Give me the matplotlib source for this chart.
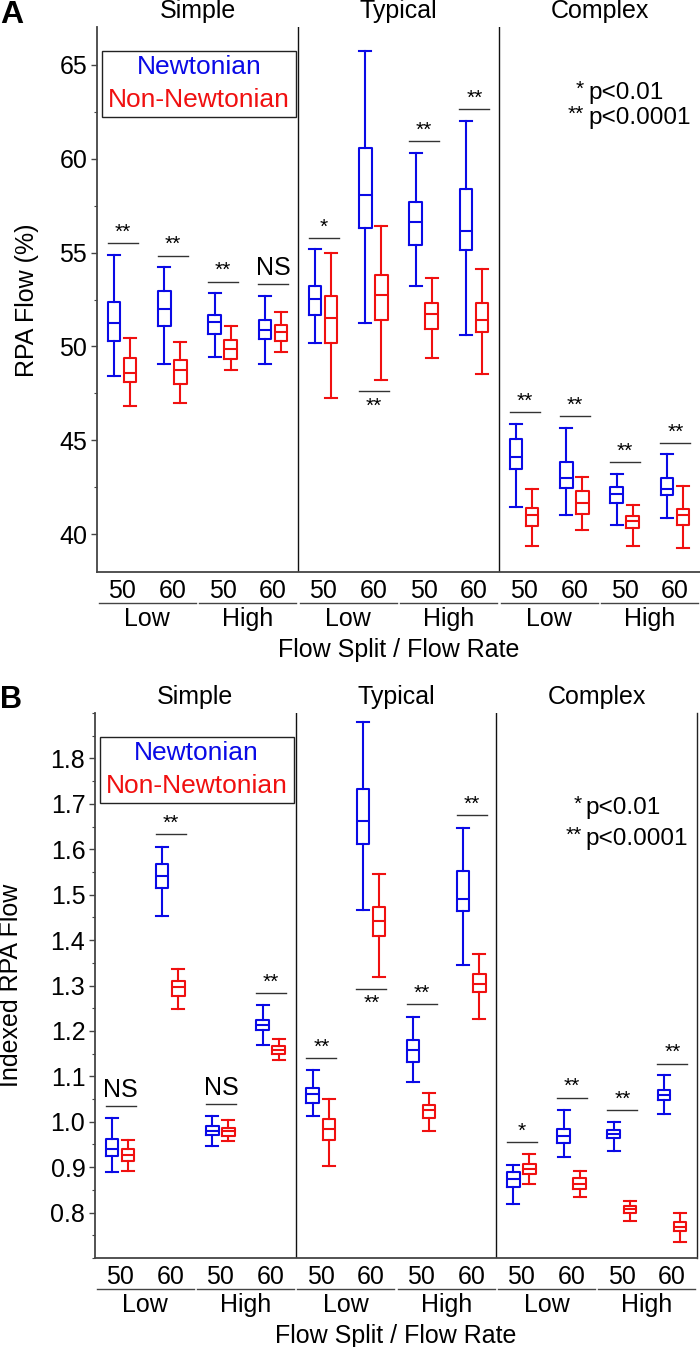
import matplotlib
matplotlib.use("Agg")
import matplotlib.pyplot as plt
from matplotlib.ticker import MultipleLocator, FixedLocator, FormatStrFormatter
from matplotlib.patches import Rectangle
import matplotlib.transforms as mtransforms

plt.rcParams['font.family'] = ['Liberation Sans', 'DejaVu Sans']

# ---------------- data ----------------
groups = ['Simple', 'Typical', 'Complex']
split_labels = ['50', '60'] * 6
rate_labels = ['Low', 'High'] * 3
legend_labels = ['Newtonian', 'Non-Newtonian']

# Panel A: RPA Flow (%)
A_newt_whislo = [48.42, 49.09, 49.43, 49.09, 50.19, 51.25, 53.20, 50.59, 41.45, 41.02, 40.48, 40.90]
A_newt_q1     = [50.29, 51.09, 50.66, 50.40, 51.67, 56.30, 55.41, 55.13, 43.48, 42.45, 41.66, 42.12]
A_newt_med    = [51.23, 52.00, 51.30, 50.86, 52.55, 58.06, 56.60, 56.15, 44.10, 43.00, 42.16, 42.44]
A_newt_q3     = [52.38, 52.94, 51.67, 51.39, 53.20, 60.55, 57.69, 58.40, 45.10, 43.83, 42.51, 42.98]
A_newt_whishi = [54.87, 54.23, 52.83, 52.71, 55.19, 65.70, 60.29, 62.00, 45.88, 45.68, 43.23, 44.27]

A_nonn_whislo = [46.85, 46.97, 48.76, 49.68, 47.26, 48.23, 49.39, 48.53, 39.40, 40.26, 39.40, 39.26]
A_nonn_q1     = [48.09, 47.98, 49.32, 50.29, 50.20, 51.40, 50.95, 50.79, 40.44, 41.06, 40.33, 40.49]
A_nonn_med    = [48.58, 48.76, 49.85, 50.77, 51.49, 52.73, 51.74, 51.39, 41.01, 41.69, 40.70, 41.02]
A_nonn_q3     = [49.39, 49.27, 50.33, 51.16, 52.68, 53.81, 52.34, 52.34, 41.43, 42.29, 40.97, 41.34]
A_nonn_whishi = [50.43, 50.24, 51.11, 51.86, 54.97, 56.43, 53.65, 54.14, 42.44, 43.06, 41.59, 42.58]

A_sig_text = ['**', '**', '**', 'NS', '*', '**', '**', '**', '**', '**', '**', '**']
A_sig_y    = [55.48, 54.83, 53.45, 53.31, 55.78, 47.63, 60.92, 62.63, 46.51, 46.30, 43.83, 44.87]
A_sig_below = [False, False, False, False, False, True, False, False, False, False, False, False]
A_yticks = [40, 45, 50, 55, 60, 65]

# Panel B: Indexed RPA Flow
B_newt_whislo = [0.890, 1.454, 0.947, 1.169, 1.012, 1.466, 1.087, 1.345, 0.818, 0.922, 0.936, 1.018]
B_newt_q1     = [0.925, 1.514, 0.971, 1.201, 1.042, 1.612, 1.132, 1.464, 0.857, 0.954, 0.964, 1.048]
B_newt_med    = [0.941, 1.541, 0.980, 1.212, 1.061, 1.662, 1.157, 1.491, 0.874, 0.968, 0.974, 1.059]
B_newt_q3     = [0.963, 1.568, 0.990, 1.224, 1.075, 1.732, 1.179, 1.553, 0.890, 0.983, 0.982, 1.070]
B_newt_whishi = [1.008, 1.606, 1.013, 1.256, 1.114, 1.881, 1.231, 1.647, 0.905, 1.026, 0.999, 1.102]

B_nonn_whislo = [0.892, 1.249, 0.957, 1.135, 0.902, 1.319, 0.980, 1.227, 0.863, 0.835, 0.781, 0.736]
B_nonn_q1     = [0.914, 1.277, 0.968, 1.149, 0.960, 1.408, 1.009, 1.285, 0.884, 0.852, 0.799, 0.760]
B_nonn_med    = [0.927, 1.297, 0.979, 1.158, 0.985, 1.442, 1.025, 1.303, 0.897, 0.863, 0.808, 0.769]
B_nonn_q3     = [0.939, 1.311, 0.987, 1.167, 1.007, 1.473, 1.037, 1.325, 0.908, 0.876, 0.814, 0.780]
B_nonn_whishi = [0.960, 1.336, 1.004, 1.183, 1.050, 1.545, 1.063, 1.370, 0.930, 0.892, 0.826, 0.799]

B_sig_text = ['NS', '**', 'NS', '**', '**', '**', '**', '**', '*', '**', '**', '**']
B_sig_y    = [1.034, 1.634, 1.038, 1.283, 1.140, 1.293, 1.259, 1.675, 0.956, 1.053, 1.026, 1.128]
B_sig_below = [False, False, False, False, False, True, False, False, False, False, False, False]
B_yticks = [0.8, 0.9, 1.0, 1.1, 1.2, 1.3, 1.4, 1.5, 1.6, 1.7, 1.8]

BLUE = '#0a0ae6'
RED = '#f01010'

W, H = 700, 1347
fig = plt.figure(figsize=(W / 100, H / 100), dpi=100)


def px_axes(left, top, right, bottom):
    return fig.add_axes([left / W, 1 - bottom / H, (right - left) / W, (bottom - top) / H])


def make_stats(lo, q1, med, q3, hi):
    return [dict(whislo=a, q1=b, med=c, q3=d, whishi=e, fliers=[])
            for a, b, c, d, e in zip(lo, q1, med, q3, hi)]


def draw_panel(ax, newt, nonn, sig_text, sig_y, sig_below, ylim, yticks, minor,
               right_spine, pval_y):
    n = len(newt[0])
    pos = list(range(n))
    for stats, color, off in ((make_stats(*newt), BLUE, -0.16), (make_stats(*nonn), RED, 0.16)):
        props = dict(color=color, linewidth=1.5)
        ax.bxp(stats, positions=[p + off for p in pos], widths=0.25, capwidths=0.24,
               showfliers=False, boxprops=props, whiskerprops=props, capprops=props,
               medianprops=props, manage_ticks=False)
    ax.set_xlim(-0.5, n - 0.5)
    ax.set_ylim(*ylim)
    ax.yaxis.set_major_locator(FixedLocator(yticks))
    ax.yaxis.set_minor_locator(MultipleLocator(minor))
    ax.tick_params(axis='y', which='major', direction='out', length=4, width=1,
                   labelsize=18, pad=3, color='#444444')
    ax.tick_params(axis='y', which='minor', direction='out', length=2.5, width=0.8,
                   color='#444444')
    ax.set_xticks(pos)
    ax.set_xticklabels(split_labels)
    ax.tick_params(axis='x', length=0, labelsize=18, pad=5)
    ax.spines['top'].set_visible(False)
    ax.spines['right'].set_visible(right_spine)
    ax.spines['right'].set_color('#222222')
    ax.spines['right'].set_linewidth(1.0)
    for s in ('left', 'bottom'):
        ax.spines[s].set_color('#444444')
        ax.spines[s].set_linewidth(1.3)
    for xsep in (3.5, 7.5):
        ax.axvline(xsep, color='#111111', lw=1.0)

    trans = mtransforms.blended_transform_factory(ax.transData, ax.transAxes)
    # pair underline + Low/High
    for k in range(6):
        ax.plot([2 * k - 0.47, 2 * k + 1.47], [-0.057, -0.057], color='#444444', lw=1.0,
                transform=trans, clip_on=False)
        ax.text(2 * k + 0.5, -0.099, rate_labels[k], transform=trans, ha='center',
                va='baseline', fontsize=18)
    for g, name in enumerate(groups):
        ax.text(4 * g + 1.5, 1.017, name, transform=trans, ha='center', va='baseline',
                fontsize=18)
    ax.text(0.5, -0.156, 'Flow Split / Flow Rate', transform=ax.transAxes, ha='center',
            va='baseline', fontsize=18)

    # significance marks
    for i, (t, y, below) in enumerate(zip(sig_text, sig_y, sig_below)):
        ax.plot([i - 0.29, i + 0.31], [y, y], color='#333333', lw=1.0)
        fs = 18 if t == 'NS' else 15
        if below:
            ax.annotate(t, (i + 0.01, y), xytext=(0, -4), textcoords='offset points',
                        ha='center', va='top', fontsize=fs)
        else:
            dy = 3 if t == 'NS' else 1
            ax.annotate(t, (i + 0.01, y), xytext=(0, dy), textcoords='offset points',
                        ha='center', va='bottom', fontsize=fs)

    # legend box
    ax.add_patch(Rectangle((0.0083, 0.835), 0.322, 0.121, transform=ax.transAxes,
                           facecolor='white', edgecolor='#222222', lw=1.0, zorder=5))
    ax.text(0.169, 0.927, legend_labels[0], color=BLUE, transform=ax.transAxes,
            ha='center', va='center', fontsize=19, zorder=6)
    ax.text(0.169, 0.866, legend_labels[1], color=RED, transform=ax.transAxes,
            ha='center', va='center', fontsize=19, zorder=6)

    # p-value key
    ax.text(0.815, pval_y[0], 'p<0.01', transform=ax.transAxes, ha='left', va='center',
            fontsize=17.5)
    ax.text(0.815, pval_y[1], 'p<0.0001', transform=ax.transAxes, ha='left', va='center',
            fontsize=17.5)
    ax.text(0.808, pval_y[0] + 0.006, '*', transform=ax.transAxes, ha='right', va='center',
            fontsize=15)
    ax.text(0.808, pval_y[1] + 0.006, '**', transform=ax.transAxes, ha='right', va='center',
            fontsize=15)
    return ax


axA = px_axes(97, 27, 700, 572)
draw_panel(axA,
           (A_newt_whislo, A_newt_q1, A_newt_med, A_newt_q3, A_newt_whishi),
           (A_nonn_whislo, A_nonn_q1, A_nonn_med, A_nonn_q3, A_nonn_whishi),
           A_sig_text, A_sig_y, A_sig_below, (38.0, 67.0), A_yticks, 2.5,
           False, (0.879, 0.833))

axB = px_axes(95, 713, 697, 1258)
draw_panel(axB,
           (B_newt_whislo, B_newt_q1, B_newt_med, B_newt_q3, B_newt_whishi),
           (B_nonn_whislo, B_nonn_q1, B_nonn_med, B_nonn_q3, B_nonn_whishi),
           B_sig_text, B_sig_y, B_sig_below, (0.7, 1.9), B_yticks, 0.05,
           True, (0.826, 0.769))
axB.yaxis.set_major_formatter(FormatStrFormatter('%.1f'))

fig.text(27 / W, 1 - 300 / H, 'RPA Flow (%)', rotation=90, ha='center', va='center',
         fontsize=18)
fig.text(11 / W, 1 - 985 / H, 'Indexed RPA Flow', rotation=90, ha='center', va='center',
         fontsize=18)
fig.text(0 / W, 1 - 23 / H, 'A', fontsize=23, fontweight='bold', ha='left', va='baseline')
fig.text(0 / W, 1 - 708 / H, 'B', fontsize=22, fontweight='bold', ha='left', va='baseline')

fig.savefig('out.png', dpi=100)
